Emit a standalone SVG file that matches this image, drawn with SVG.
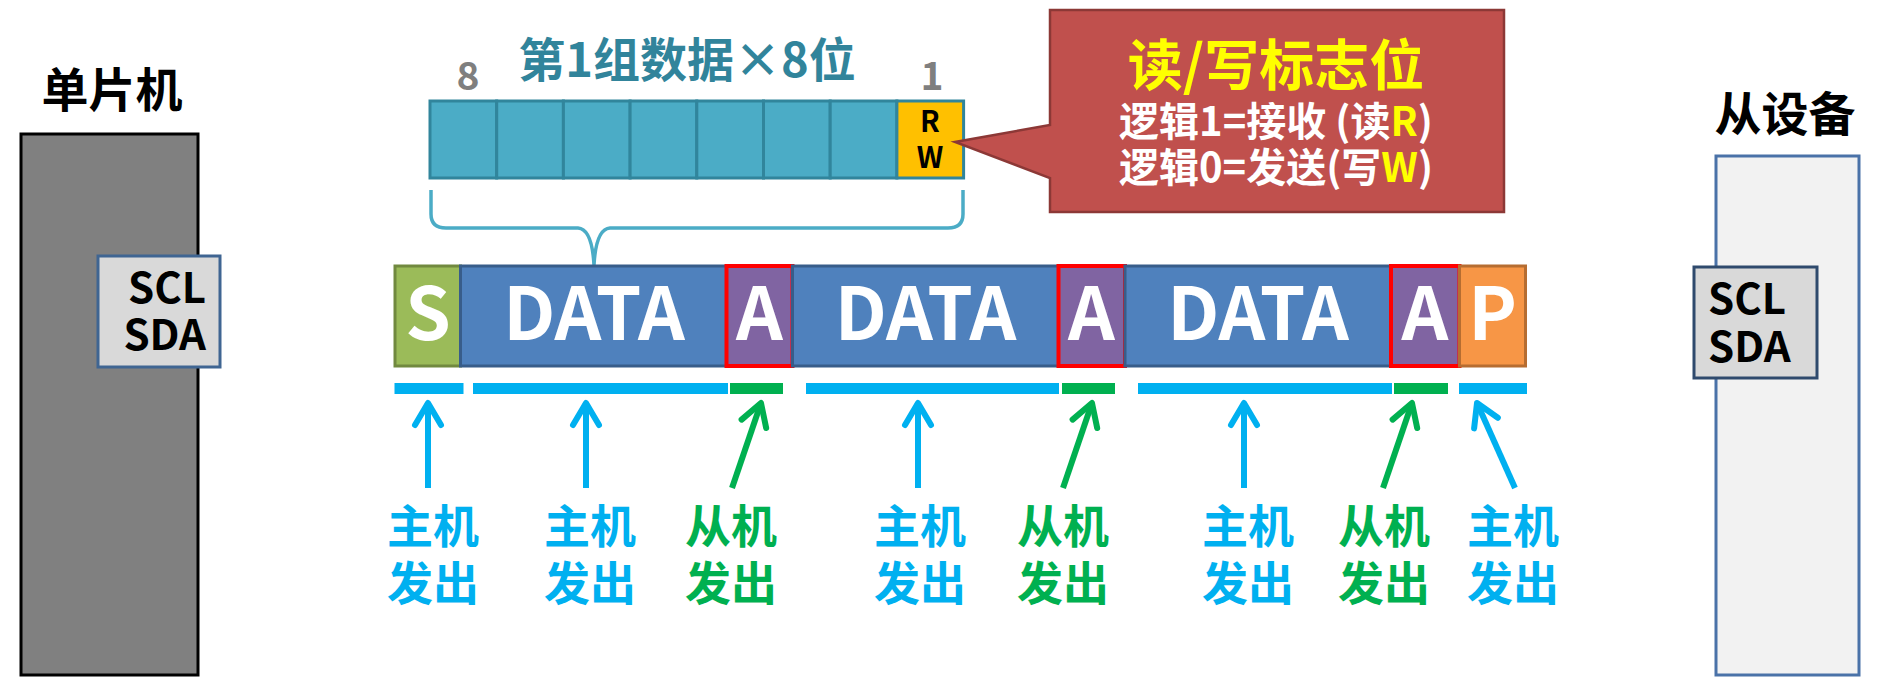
<svg xmlns="http://www.w3.org/2000/svg" width="1900" height="682" viewBox="0 0 1900 682">
<style>
text{font-family:"Noto Sans CJK SC","Liberation Sans",sans-serif;font-weight:bold}
.big{font-size:47px;fill:#000;text-anchor:middle}
.pin{font-size:42px;fill:#000}
.seg{font-size:73px;fill:#fff;text-anchor:middle}
.lbl{font-size:46px;text-anchor:middle}
.blue{fill:#00b0f0}
.green{fill:#00b050}
.cell{fill:#4bacc6;stroke:#31859c;stroke-width:3}
.data{fill:#4f81bd;stroke:#385d8a;stroke-width:3}
.ack{fill:#8064a2;stroke:#ff0000;stroke-width:4}
.ab{stroke:#00b0f0;stroke-width:6;fill:none}
.ag{stroke:#00b050;stroke-width:6;fill:none}
</style>
<defs>
<marker id="hb" markerUnits="userSpaceOnUse" orient="auto" markerWidth="40" markerHeight="40" viewBox="-30 -20 40 40" refX="0" refY="0" overflow="visible"><path d="M-22,-13 L0,0 L-22,13" fill="none" stroke="#00b0f0" stroke-width="6" stroke-linecap="round" stroke-linejoin="round"/></marker>
<marker id="hg" markerUnits="userSpaceOnUse" orient="auto" markerWidth="40" markerHeight="40" viewBox="-30 -20 40 40" refX="0" refY="0" overflow="visible"><path d="M-22,-13 L0,0 L-22,13" fill="none" stroke="#00b050" stroke-width="6" stroke-linecap="round" stroke-linejoin="round"/></marker>
</defs>
<rect width="1900" height="682" fill="#fff"/>

<g id="mcu">
<text class="big" x="112" y="107">单片机</text>
<rect x="21" y="134" width="177" height="541" fill="#808080" stroke="#000" stroke-width="3"/>
</g>
<g id="mcu-pins">
<rect x="98" y="256" width="122" height="111" fill="#d9d9d9" stroke="#3f6592" stroke-width="3"/>
<text class="pin" x="206" y="303" text-anchor="end">SCL</text>
<text class="pin" x="206" y="350" text-anchor="end">SDA</text>
</g>

<g id="slave">
<text class="big" x="1785" y="131">从设备</text>
<rect x="1716" y="156" width="143" height="519" fill="#f2f2f2" stroke="#4a72a8" stroke-width="3"/>
</g>
<g id="slave-pins">
<rect x="1694" y="267" width="123" height="111" fill="#d9d9d9" stroke="#2f4a6d" stroke-width="3"/>
<text class="pin" x="1708" y="314">SCL</text>
<text class="pin" x="1708" y="362">SDA</text>
</g>

<g id="byte">
<text x="687" y="77" font-size="47" fill="#31849b" text-anchor="middle">第1组数据×8位</text>
<text x="468" y="90" font-size="39" fill="#7f7f7f" text-anchor="middle">8</text>
<text x="932" y="90" font-size="39" fill="#7f7f7f" text-anchor="middle">1</text>
<rect class="cell" x="430" y="101" width="66.7" height="77"/>
<rect class="cell" x="496.7" y="101" width="66.7" height="77"/>
<rect class="cell" x="563.4" y="101" width="66.7" height="77"/>
<rect class="cell" x="630.1" y="101" width="66.7" height="77"/>
<rect class="cell" x="696.8" y="101" width="66.7" height="77"/>
<rect class="cell" x="763.5" y="101" width="66.7" height="77"/>
<rect class="cell" x="830.2" y="101" width="66.7" height="77"/>
<rect x="896.9" y="101" width="66.7" height="77" fill="#ffc000" stroke="#31859c" stroke-width="3"/>
<text x="930" y="132" font-size="29" fill="#000" text-anchor="middle">R</text>
<text x="930" y="168" font-size="29" fill="#000" text-anchor="middle">W</text>
</g>

<g id="brace">
<path d="M431,190 V214 Q431,228 446,228 H578 Q592,229 594,265 Q596,229 610,228 H948 Q963,228 963,214 V190" fill="none" stroke="#4bacc6" stroke-width="3.5"/>
</g>

<g id="rw-callout">
<path d="M1050,10 H1504 V212 H1050 V178 L955,142 L1050,125 Z" fill="#c0504d" stroke="#8c3836" stroke-width="2.5"/>
<text x="1276" y="85" font-size="55" fill="#ffff00" text-anchor="middle">读/写标志位</text>
<text x="1276" y="136" font-size="40" fill="#fff" text-anchor="middle">逻辑1=接收 (读<tspan fill="#ffff00">R</tspan>)</text>
<text x="1276" y="182" font-size="40" fill="#fff" text-anchor="middle">逻辑0=发送(写<tspan fill="#ffff00">W</tspan>)</text>
</g>

<g id="frame">
<rect x="395" y="266" width="65.5" height="100" fill="#9bbb59" stroke="#71893f" stroke-width="3"/>
<rect class="data" x="460.5" y="266" width="266" height="100"/>
<rect class="ack" x="726.5" y="266" width="66" height="100"/>
<rect class="data" x="792.5" y="266" width="266" height="100"/>
<rect class="ack" x="1058.5" y="266" width="66.5" height="100"/>
<rect class="data" x="1125" y="266" width="266" height="100"/>
<rect class="ack" x="1391" y="266" width="68.5" height="100"/>
<rect x="1459.5" y="266" width="66" height="100" fill="#f79646" stroke="#b66d31" stroke-width="3"/>
<text class="seg" x="428" y="340">S</text>
<text class="seg" x="594" y="340">DATA</text>
<text class="seg" x="759.5" y="340">A</text>
<text class="seg" x="925.5" y="340">DATA</text>
<text class="seg" x="1091.5" y="340">A</text>
<text class="seg" x="1258" y="340">DATA</text>
<text class="seg" x="1425" y="340">A</text>
<text class="seg" x="1492.5" y="340">P</text>
</g>

<g id="bars">
<rect class="blue" x="394.5" y="383" width="69" height="11"/>
<rect class="blue" x="473" y="383" width="255" height="11"/>
<rect class="green" x="730" y="383" width="53" height="11"/>
<rect class="blue" x="806" y="383" width="253" height="11"/>
<rect class="green" x="1062" y="383" width="53" height="11"/>
<rect class="blue" x="1138" y="383" width="254" height="11"/>
<rect class="green" x="1394" y="383" width="54" height="11"/>
<rect class="blue" x="1459" y="383" width="68" height="11"/>
</g>

<g id="connectors">
<line class="ab" x1="428" y1="488" x2="428" y2="403" marker-end="url(#hb)"/>
<line class="ab" x1="586" y1="488" x2="586" y2="403" marker-end="url(#hb)"/>
<line class="ag" x1="732" y1="488" x2="761" y2="403" marker-end="url(#hg)"/>
<line class="ab" x1="918" y1="488" x2="918" y2="403" marker-end="url(#hb)"/>
<line class="ag" x1="1063" y1="488" x2="1092" y2="403" marker-end="url(#hg)"/>
<line class="ab" x1="1244" y1="488" x2="1244" y2="403" marker-end="url(#hb)"/>
<line class="ag" x1="1383" y1="488" x2="1412" y2="403" marker-end="url(#hg)"/>
<line class="ab" x1="1515" y1="488" x2="1477" y2="403" marker-end="url(#hb)"/>
</g>

<g id="labels">
<g id="l1"><text class="lbl blue" x="433" y="543">主机</text><text class="lbl blue" x="433" y="600">发出</text></g>
<g id="l2"><text class="lbl blue" x="590" y="543">主机</text><text class="lbl blue" x="590" y="600">发出</text></g>
<g id="l3"><text class="lbl green" x="731" y="543">从机</text><text class="lbl green" x="731" y="600">发出</text></g>
<g id="l4"><text class="lbl blue" x="920" y="543">主机</text><text class="lbl blue" x="920" y="600">发出</text></g>
<g id="l5"><text class="lbl green" x="1063" y="543">从机</text><text class="lbl green" x="1063" y="600">发出</text></g>
<g id="l6"><text class="lbl blue" x="1248" y="543">主机</text><text class="lbl blue" x="1248" y="600">发出</text></g>
<g id="l7"><text class="lbl green" x="1384" y="543">从机</text><text class="lbl green" x="1384" y="600">发出</text></g>
<g id="l8"><text class="lbl blue" x="1513" y="543">主机</text><text class="lbl blue" x="1513" y="600">发出</text></g>
</g>
</svg>
